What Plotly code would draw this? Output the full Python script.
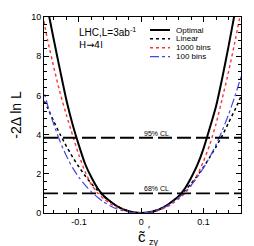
import plotly.graph_objects as go

# ---- data ----
c_vals = [-0.16, -0.15, -0.14, -0.13, -0.12, -0.11, -0.10, -0.09, -0.08, -0.07, -0.06, -0.05, -0.04, -0.03, -0.02, -0.01,
          0.0, 0.01, 0.02, 0.03, 0.04, 0.05, 0.06, 0.07, 0.08, 0.09, 0.10, 0.11, 0.12, 0.13, 0.14, 0.15, 0.16]
optimal = [12.2, 10.4, 8.8, 7.25, 5.75, 4.5, 3.45, 2.5, 1.82, 1.26, 0.87, 0.6, 0.37, 0.2, 0.09, 0.02,
           0.0, 0.02, 0.09, 0.2, 0.37, 0.6, 0.86, 1.25, 1.8, 2.45, 3.3, 4.35, 5.45, 6.9, 8.5, 10.2, 12.0]
linear = [6.0, 5.35, 4.65, 4.0, 3.4, 2.85, 2.35, 1.9, 1.5, 1.15, 0.85, 0.59, 0.38, 0.21, 0.094, 0.024,
          0.0, 0.024, 0.094, 0.21, 0.38, 0.59, 0.85, 1.15, 1.5, 1.9, 2.35, 2.85, 3.38, 3.95, 4.6, 5.25, 5.95]
bins1000 = [10.4, 8.8, 7.4, 6.1, 5.0, 3.95, 2.95, 2.1, 1.45, 1.02, 0.72, 0.48, 0.3, 0.16, 0.07, 0.02,
            0.0, 0.02, 0.07, 0.16, 0.3, 0.48, 0.72, 1.0, 1.4, 1.95, 2.65, 3.5, 4.55, 5.85, 7.2, 8.7, 10.3]
bins100 = [6.65, 5.48, 4.49, 3.63, 2.91, 2.3, 1.82, 1.42, 1.08, 0.8, 0.56, 0.37, 0.22, 0.12, 0.052, 0.013,
           0.0, 0.02, 0.083, 0.187, 0.335, 0.53, 0.77, 1.07, 1.42, 1.83, 2.31, 2.86, 3.49, 4.21, 5.02, 5.93, 6.95]
cl_levels = [3.84, 1.0]
cl_labels = ["95% CL", "68% CL"]
series_names = ["Optimal", "Linear", "1000 bins", "100 bins"]
x_ticks = [-0.1, 0.0, 0.1]
x_ticklabels = ["-0.1", "0", "0.1"]
y_ticks = [0, 2, 4, 6, 8, 10]

FONT = "Liberation Sans, Arial, sans-serif"
W, H = 254, 246
L, R, T, B = 44, 13, 17, 33
XR = [-0.156, 0.160]

styles = [
    dict(color="black", width=2, dash="solid"),
    dict(color="black", width=1.5, dash="dot"),
    dict(color="#ff3030", width=1.4, dash="dot"),
    dict(color="#4545e8", width=1.2, dash="dashdot"),
]

fig = go.Figure()
for yv, st, nm in zip([optimal, linear, bins1000, bins100], styles, series_names):
    fig.add_trace(go.Scatter(x=c_vals, y=yv, mode="lines", name=nm,
                             line=dict(shape="spline", smoothing=0.6, **st),
                             showlegend=False, hoverinfo="skip"))

for lev in cl_levels:
    fig.add_trace(go.Scatter(x=[XR[0], XR[1]], y=[lev, lev], mode="lines",
                             line=dict(color="black", width=1.8, dash="14px,5px"),
                             showlegend=False, hoverinfo="skip"))

def px2paper(px, py):
    return (px - L) / (W - L - R), (H - B - py) / (H - T - B)

annotations = []
for lev, lab in zip(cl_levels, cl_labels):
    annotations.append(dict(x=0.001, y=lev, xref="x", yref="y", text=lab, showarrow=False,
                            xanchor="left", yanchor="bottom", yshift=-1,
                            font=dict(family=FONT, size=7, color="black")))

# header text
hx, hy = px2paper(77, 32)
annotations.append(dict(x=hx, y=hy, xref="paper", yref="paper", text="LHC,L=3ab<sup>-1</sup>",
                        showarrow=False, xanchor="left", yanchor="middle",
                        font=dict(family=FONT, size=10, color="black")))
hx, hy = px2paper(77, 44)
annotations.append(dict(x=hx, y=hy, xref="paper", yref="paper", text="H→4l",
                        showarrow=False, xanchor="left", yanchor="middle",
                        font=dict(family="DejaVu Sans, " + FONT, size=9.5, color="black")))

# manual legend
shapes = []
rows_y = [30, 38.8, 47.7, 56.6]
for st, nm, ry in zip(styles, series_names, rows_y):
    x0, y0 = px2paper(150, ry)
    x1, _ = px2paper(170, ry)
    shapes.append(dict(type="line", xref="paper", yref="paper", x0=x0, x1=x1, y0=y0, y1=y0,
                       line=dict(color=st["color"], width=st["width"], dash=st["dash"])))
    tx, _ = px2paper(174, ry)
    annotations.append(dict(x=tx, y=y0, xref="paper", yref="paper", text=nm, showarrow=False,
                            xanchor="left", yanchor="middle",
                            font=dict(family=FONT, size=8, color="black")))

# x title: c-tilde-prime with subscript z-gamma
for txt, px, py, sz, anc in [("c̃", 142, 236, 15, "center"),
                             ("′", 145.5, 230, 10, "left"),
                             ("zγ", 146.5, 241.5, 9, "left")]:
    ax, ay = px2paper(px, py)
    annotations.append(dict(x=ax, y=ay, xref="paper", yref="paper", text=txt, showarrow=False,
                            xanchor=anc, yanchor="middle",
                            font=dict(family=FONT, size=sz, color="black")))

fig.update_layout(
    width=W, height=H,
    margin=dict(l=L, r=R, t=T, b=B, pad=0),
    paper_bgcolor="white", plot_bgcolor="white",
    font=dict(family=FONT, color="black"),
    shapes=shapes, annotations=annotations,
    showlegend=False,
)
fig.update_xaxes(range=XR, tickvals=x_ticks, ticktext=x_ticklabels,
                 ticks="inside", ticklen=5, tickwidth=1, tickcolor="black",
                 minor=dict(dtick=0.02, ticks="inside", ticklen=3, tickcolor="black", showgrid=False),
                 showline=True, linecolor="black", linewidth=1, mirror="allticks",
                 showgrid=False, zeroline=False, tickfont=dict(size=9, family=FONT))
fig.update_yaxes(range=[0, 10], tickvals=y_ticks, ticks="inside", ticklen=5, tickwidth=1, tickcolor="black",
                 minor=dict(dtick=0.4, ticks="inside", ticklen=3, tickcolor="black", showgrid=False),
                 showline=True, linecolor="black", linewidth=1, mirror="allticks",
                 showgrid=False, zeroline=False, tickfont=dict(size=9, family=FONT),
                 title=dict(text="-2Δ ln L", font=dict(size=14, family=FONT), standoff=6))

fig.write_html("out.html", config={"displayModeBar": False},
               post_script="document.body.style.margin='0';document.body.style.overflow='hidden';")
